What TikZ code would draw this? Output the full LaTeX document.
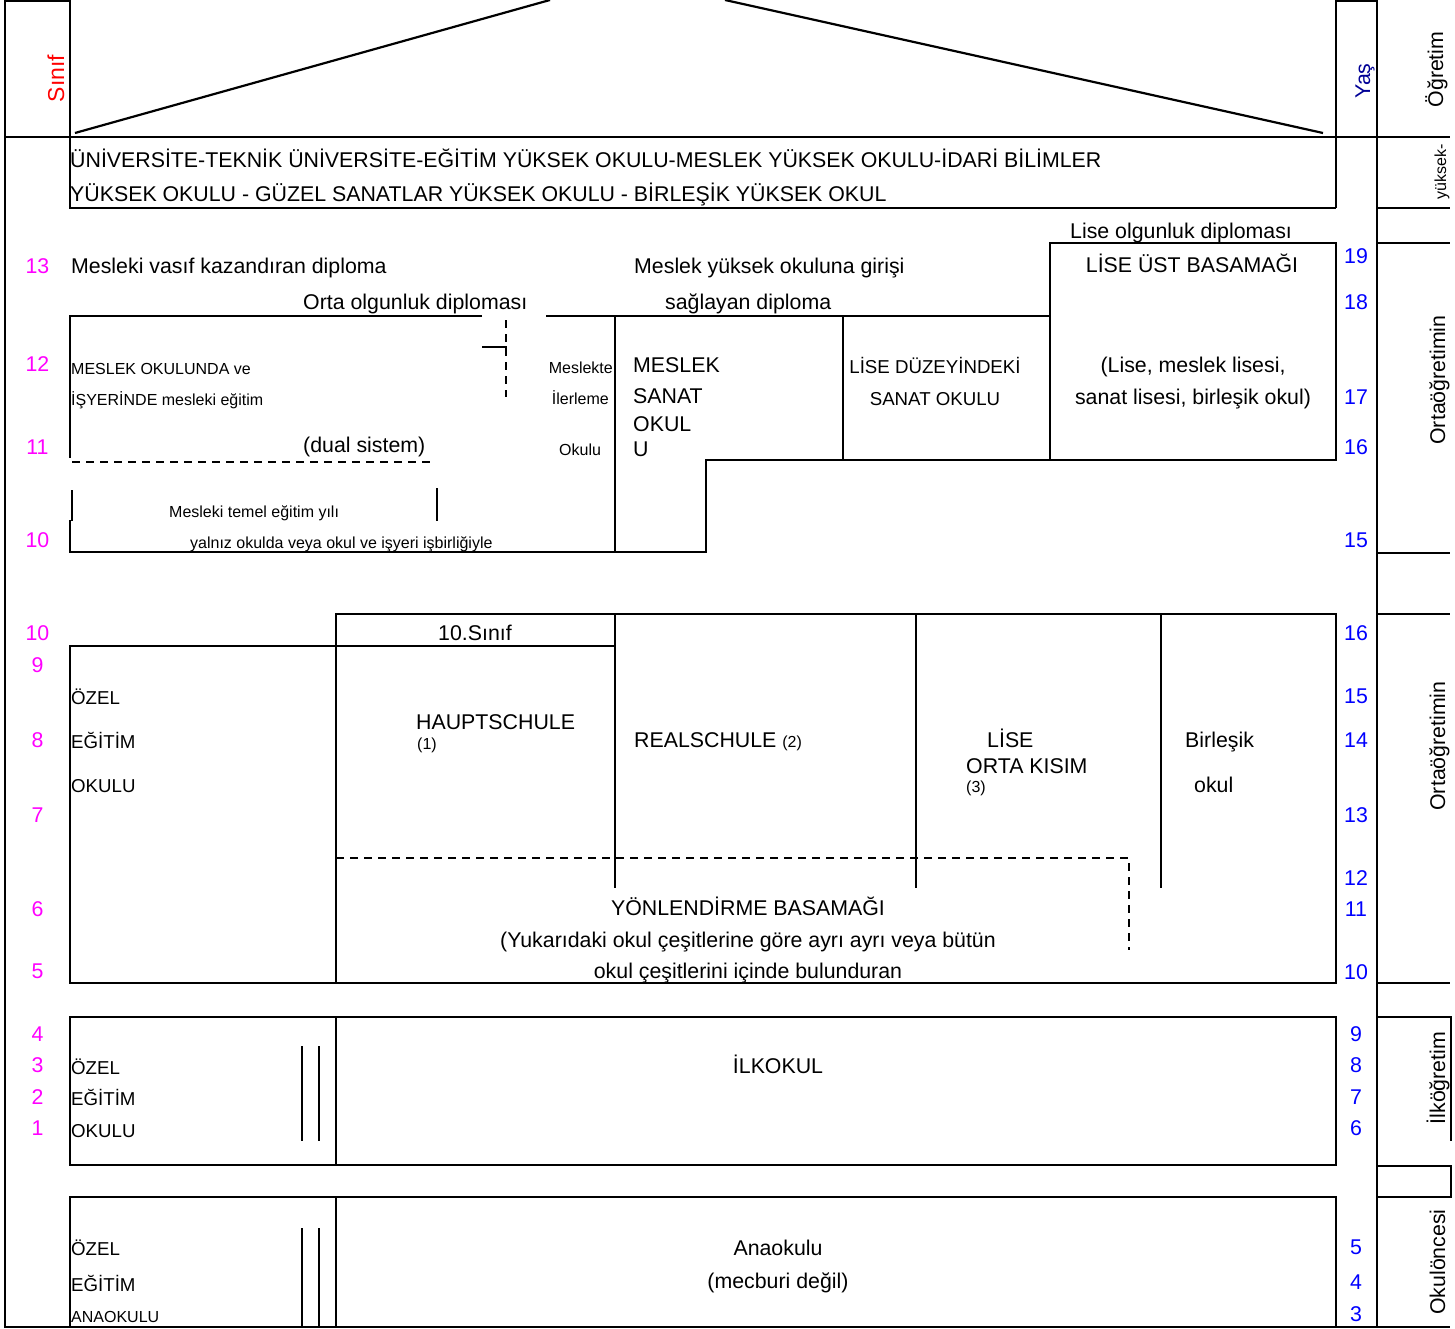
\documentclass[tikz,border=0pt]{standalone}
\usepackage{fontspec}
\setmainfont{Liberation Sans}
\newcommand\fA{\fontsize{21.33}{25}\selectfont}
\newcommand\fB{\fontsize{18.67}{22}\selectfont}
\newcommand\fC{\fontsize{16}{19}\selectfont}
\newcommand\fS{\fontsize{23}{27}\selectfont}
\definecolor{magn}{RGB}{255,0,255}
\definecolor{numb}{RGB}{0,0,255}
\definecolor{navyb}{RGB}{0,0,150}
\begin{document}
\begin{tikzpicture}[x=1pt,y=-1pt,
  ln/.style={line width=2.8pt},
  tln/.style={line width=2.2pt},
  dsh/.style={line width=2.2pt,dash pattern=on 8pt off 6pt},
  tA/.style={font=\fA,inner sep=0pt,anchor=base west},
  tAc/.style={font=\fA,inner sep=0pt,anchor=base},
  tB/.style={font=\fB,inner sep=0pt,anchor=base west},
  tBc/.style={font=\fB,inner sep=0pt,anchor=base},
  tC/.style={font=\fC,inner sep=0pt,anchor=base west},
  tCe/.style={font=\fC,inner sep=0pt,anchor=base east},
  nm/.style={font=\fA,inner sep=0pt,anchor=center,text=magn},
  nb/.style={font=\fA,inner sep=0pt,anchor=center,text=numb},
  vt/.style={font=\fA,inner sep=0pt,anchor=base,rotate=90},
]
\useasboundingbox (0,0) rectangle (1455,1329);

% ---------- frame and header ----------
\draw[ln] (70,1) -- (5,1) -- (5,1327) -- (1450,1327);
\draw[ln] (70,0) -- (70,137);
\draw[ln] (5,137) -- (1450,137);
\draw[ln] (1336,1) -- (1377,1);
\draw[ln] (1336,0) -- (1336,208);
\draw[ln] (1377,0) -- (1377,1327);
\draw[tln] (75,133) -- (550,0);
\draw[tln] (725,0) -- (1323,133);
% university box
\draw[ln] (70,137) -- (70,208) -- (1336,208);
% right column separators
\foreach \yy in {208,243,553,614,983} \draw[ln] (1377,\yy) -- (1450,\yy);
\draw[ln] (1377,1017) -- (1451,1017) -- (1451,1141);
\draw[ln] (1377,1166) -- (1451,1166) -- (1451,1197) -- (1377,1197);

% ---------- vocational block ----------
\draw[ln] (482,316) -- (70,316) -- (70,458);
\draw[ln] (546,316) -- (1050,316);
\draw[dsh] (506,320) -- (506,397);
\draw[ln] (482,347) -- (506,347) -- (506,353);
\draw[dsh] (72,462) -- (430,462);
\draw[ln] (72,490) -- (72,521);
\draw[ln] (437,488) -- (437,521);
\draw[ln] (70,520) -- (70,552) -- (706,552) -- (706,460) -- (1336,460) -- (1336,243) -- (1050,243) -- (1050,460);
\draw[ln] (615,316) -- (615,552);
\draw[ln] (843,316) -- (843,460);

% ---------- secondary I block ----------
\draw[ln] (336,983) -- (336,614) -- (1336,614) -- (1336,983) -- (70,983) -- (70,646) -- (615,646);
\draw[ln] (615,614) -- (615,888);
\draw[ln] (916,614) -- (916,888);
\draw[ln] (1161,614) -- (1161,888);
\draw[dsh] (336,858) -- (1129,858) -- (1129,950);

% ---------- primary block ----------
\draw[ln] (70,1017) rectangle (1336,1165);
\draw[ln] (336,1017) -- (336,1165);
\draw[tln] (302,1046) -- (302,1141);
\draw[tln] (319,1046) -- (319,1141);

% ---------- pre-school block ----------
\draw[ln] (70,1327) -- (70,1197) -- (1336,1197) -- (1336,1327);
\draw[ln] (336,1197) -- (336,1327);
\draw[tln] (302,1228) -- (302,1327);
\draw[tln] (319,1228) -- (319,1327);

% ---------- vertical labels ----------
\node[vt,font=\fS,text=red] (sinif) at (64,78.5) {Sınıf};
\node[vt,text=navyb] (yas) at (1370,81) {Yaş};
\node[vt] (ogretim) at (1443,69.5) {Öğretim};
\node[vt,font=\fC] (yuksek) at (1446,172) {yüksek-};
\node[vt] (orta1) at (1445,380) {Ortaöğretimin};
\node[vt] (orta2) at (1445,746) {Ortaöğretimin};
\node[vt] (ilkog) at (1445,1078) {İlköğretim};
\node[vt] (okulonc) at (1445,1262) {Okulöncesi};

% ---------- texts ----------
\node[tA] (u1) at (70,168) {ÜNİVERSİTE-TEKNİK ÜNİVERSİTE-EĞİTİM YÜKSEK OKULU-MESLEK YÜKSEK OKULU-İDARİ BİLİMLER};
\node[tA] (u2) at (70,202) {YÜKSEK OKULU - GÜZEL SANATLAR YÜKSEK OKULU - BİRLEŞİK YÜKSEK OKUL};

\node[tA] (dip1) at (71,274) {Mesleki vasıf kazandıran diploma};
\node[tA] (dip2) at (634,274) {Meslek yüksek okuluna girişi};
\node[tA] (dip3) at (1070,239) {Lise olgunluk diploması};
\node[tAc] (lub) at (1192,273) {LİSE ÜST BASAMAĞI};
\node[tAc] (lise1) at (1193,372) {(Lise, meslek lisesi,};
\node[tAc] (lise2) at (1193,404) {sanat lisesi, birleşik okul)};
\node[tA] (orta) at (303,309) {Orta olgunluk diploması};
\node[tA] (sagl) at (665,309) {sağlayan diploma};
\node[tC] (mo1) at (71,374) {MESLEK OKULUNDA ve};
\node[tC] (mo2) at (71,405) {İŞYERİNDE mesleki eğitim};
\node[tA] (dual) at (303,452) {(dual sistem)};
\node[tC] (mteg) at (169,517) {Mesleki temel eğitim yılı};
\node[tC] (yaln) at (190,548) {yalnız okulda veya okul ve işyeri işbirliğiyle};
\node[tCe] (mi1) at (613,373) {Meslekte};
\node[tCe] (mi2) at (609,404) {İlerleme};
\node[tC] (mi3) at (559,455) {Okulu};
\node[tA] (ms1) at (633,372) {MESLEK};
\node[tA] (ms2) at (633,403) {SANAT};
\node[tA] (ms3) at (633,431) {OKUL};
\node[tA] (ms4) at (633,456) {U};
\node[tBc] (ld1) at (935,373) {LİSE DÜZEYİNDEKİ};
\node[tBc] (ld2) at (935,405) {SANAT OKULU};

\node[tAc] (s10) at (475,640) {10.Sınıf};
\node[tB] (oz1) at (71,704) {ÖZEL};
\node[tB] (oz2) at (71,748) {EĞİTİM};
\node[tB] (oz3) at (71,792) {OKULU};
\node[tA] (haupt) at (416,729) {HAUPTSCHULE};
\node[tC] (h1) at (417,749) {(1)};
\node[tA] (real) at (634,747) {REALSCHULE {\fC (2)}};
\node[tA] (lise) at (987,747) {LİSE};
\node[tA] (ortak) at (966,773) {ORTA KISIM};
\node[tC] (l3) at (966,792) {(3)};
\node[tA] (birl) at (1185,747) {Birleşik};
\node[tA] (okul) at (1194,792) {okul};
\node[tAc] (yon) at (748,915) {YÖNLENDİRME BASAMAĞI};
\node[tAc] (yuk) at (748,947) {(Yukarıdaki okul çeşitlerine göre ayrı ayrı veya bütün};
\node[tAc] (okc) at (748,978) {okul çeşitlerini içinde bulunduran};

\node[tB] (io1) at (71,1074) {ÖZEL};
\node[tB] (io2) at (71,1105) {EĞİTİM};
\node[tB] (io3) at (71,1137) {OKULU};
\node[tAc] (ilk) at (778,1073) {İLKOKUL};

\node[tB] (ao1) at (71,1255) {ÖZEL};
\node[tB] (ao2) at (71,1291) {EĞİTİM};
\node[tC] (ao3) at (71,1322) {ANAOKULU};
\node[tAc] (ana) at (778,1255) {Anaokulu};
\node[tAc] (mec) at (778,1288) {(mecburi değil)};

% ---------- grade numbers (magenta) ----------
\foreach \t/\yy [count=\k] in {13/266.5,12/364.5,11/447.5,10/540,10/633,9/665.5,8/740,7/815.5,6/909.5,5/971,4/1034,3/1065.5,2/1097,1/1128}
  \node[nm] (m\k) at (37.5,\yy) {\t};
% ---------- ages (blue) ----------
\foreach \t/\yy [count=\k] in {19/256,18/302,17/397,16/447.5,15/540,16/633,15/696.5,14/740,13/815.5,12/878.5,11/909,10/972,9/1034,8/1065.5,7/1097,6/1128.5,5/1247.5,4/1282,3/1314}
  \node[nb] (b\k) at (1356,\yy) {\t};
\end{tikzpicture}
\end{document}
